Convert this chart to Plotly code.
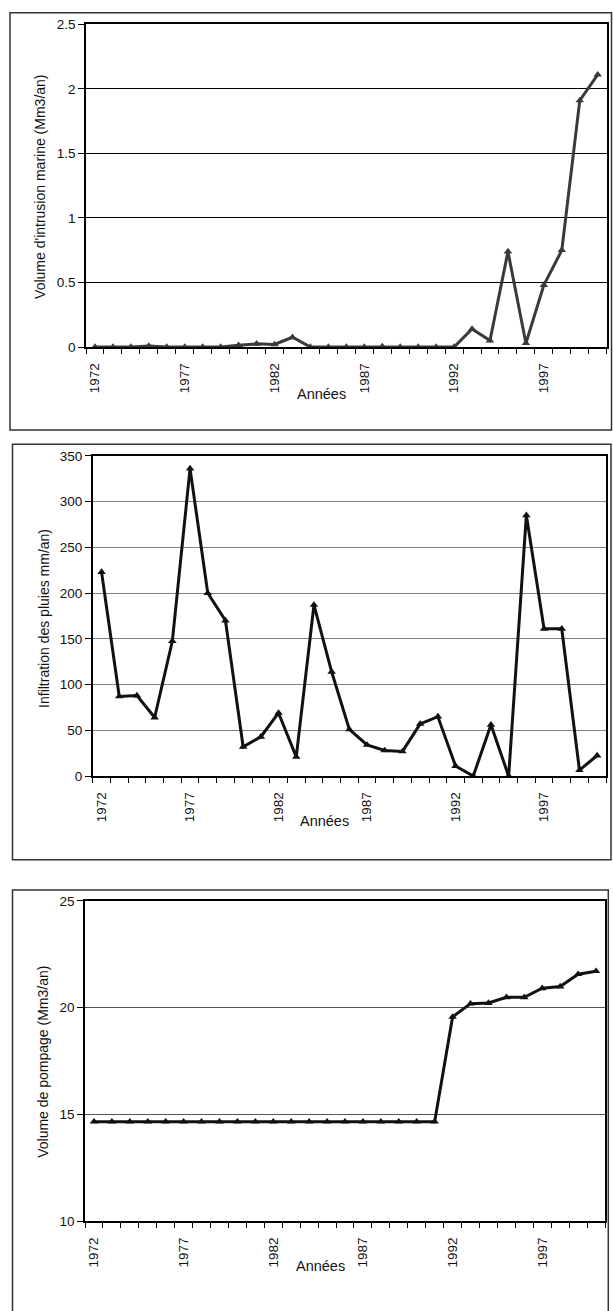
import plotly.graph_objects as go

# ---------------- data ----------------
years = [1972, 1973, 1974, 1975, 1976, 1977, 1978, 1979, 1980, 1981,
         1982, 1983, 1984, 1985, 1986, 1987, 1988, 1989, 1990, 1991,
         1992, 1993, 1994, 1995, 1996, 1997, 1998, 1999, 2000]
year_labels = [1972, 1977, 1982, 1987, 1992, 1997]

intrusion = [0, 0, 0, 0.008, 0, 0, 0, 0, 0.015, 0.025,
             0.02, 0.076, 0, 0, 0, 0, 0.005, 0, 0, 0,
             0, 0.14, 0.05, 0.74, 0.03, 0.48, 0.75, 1.91, 2.11]

infiltration = [223, 87, 88, 64, 147.5, 336, 200, 170, 32, 43,
                69, 21, 187, 114, 51, 34, 28, 27, 57, 65,
                11, 0, 56, 0, 285, 161, 161, 6.5, 22.5]

pompage = [14.66, 14.66, 14.66, 14.66, 14.66, 14.66, 14.66, 14.66, 14.66, 14.66,
           14.66, 14.66, 14.66, 14.66, 14.66, 14.66, 14.66, 14.66, 14.66, 14.66,
           19.57, 20.19, 20.22, 20.49, 20.49, 20.91, 20.99, 21.57, 21.71]

y_titles = ["Volume d'intrusion marine (Mm3/an)",
            "Infiltration des pluies mm/an)",
            "Volume de pompage (Mm3/an)"]
x_title = "Années"

# ---------------- layout geometry (pixels) ----------------
W, H = 613, 1311
FONT = "Liberation Sans, Arial, sans-serif"

def px(x):
    return x / W

def py(y):
    return 1 - y / H

panels = [
    dict(series=intrusion, color="#3a3a3a", yr=[0, 2.5], dt=0.5, grid="#000000",
         plot=(86, 606.7, 17.5, 344), box=(10, 611.5, 5.7, 428),
         ytitle=(40, 182), xtitle=(321, 391)),
    dict(series=infiltration, color="#111111", yr=[0, 350], dt=50, grid="#808080",
         plot=(92.7, 606, 454, 778), box=(12.5, 611, 442.3, 862.7),
         ytitle=(44, 618), xtitle=(324.5, 823)),
    dict(series=pompage, color="#111111", yr=[10, 25], dt=5, grid="#555555",
         plot=(85, 605, 904.3, 1228.3), box=(12.5, 608.3, 893.3, 1330),
         ytitle=(43, 1067), xtitle=(320.5, 1274)),
]

fig = go.Figure()
shapes = []
annotations = []
boundaries = [y - 0.5 for y in years] + [years[-1] + 0.5]

for i, p in enumerate(panels):
    n = "" if i == 0 else str(i + 1)
    xa, ya = "x" + n, "y" + n
    fig.add_trace(go.Scatter(
        x=years, y=p["series"], mode="lines+markers",
        line=dict(color=p["color"], width=3),
        marker=dict(symbol="triangle-up", size=7.5, color=p["color"]),
        xaxis=xa, yaxis=ya, showlegend=False, cliponaxis=False))
    x0, x1, y0, y1 = p["plot"]
    fig.update_layout(**{
        "xaxis" + n: dict(
            domain=[px(x0), px(x1)], anchor=ya,
            range=[years[0] - 0.5, years[-1] + 0.5],
            tickmode="array", tickvals=year_labels,
            ticks="outside", ticklen=5, tickcolor="rgba(0,0,0,0)",
            tickangle=-90, ticklabelstandoff=4,
            tickfont=dict(family=FONT, size=13.5, color="#111"),
            showgrid=False, zeroline=False,
            showline=True, linecolor="black", linewidth=1.5, mirror=True,
            minor=dict(tickvals=boundaries, ticks="outside", ticklen=5,
                       tickcolor="black", tickwidth=1, showgrid=False),
        ),
        "yaxis" + n: dict(
            domain=[py(y1), py(y0)], anchor=xa,
            range=p["yr"], dtick=p["dt"], tick0=p["yr"][0],
            ticks="outside", ticklen=6, tickcolor="black",
            tickfont=dict(family=FONT, size=13.5, color="#111"),
            showgrid=True, gridcolor=p["grid"], gridwidth=1,
            zeroline=False,
            showline=True, linecolor="black", linewidth=1.5, mirror=True,
        ),
    })
    bx0, bx1, by0, by1 = p["box"]
    shapes.append(dict(type="rect", xref="paper", yref="paper",
                       x0=px(bx0), x1=px(bx1), y0=py(by1), y1=py(by0),
                       line=dict(color="#333333", width=1.5), layer="below"))
    tx, ty = p["ytitle"]
    annotations.append(dict(text=y_titles[i], xref="paper", yref="paper",
                            x=px(tx), y=py(ty), xanchor="center", yanchor="middle",
                            textangle=-90, showarrow=False,
                            font=dict(family=FONT, size=14, color="#111")))
    ax, ay = p["xtitle"]
    annotations.append(dict(text=x_title, xref="paper", yref="paper",
                            x=px(ax), y=py(ay), xanchor="center", yanchor="middle",
                            showarrow=False,
                            font=dict(family=FONT, size=14.5, color="#111")))

fig.update_layout(
    width=W, height=H, autosize=False,
    margin=dict(l=0, r=0, t=0, b=0, pad=0),
    paper_bgcolor="white", plot_bgcolor="white",
    shapes=shapes, annotations=annotations,
    font=dict(family=FONT),
)

fig.write_html("out.html", config={"displayModeBar": False},
               post_script="document.body.style.margin='0';")
